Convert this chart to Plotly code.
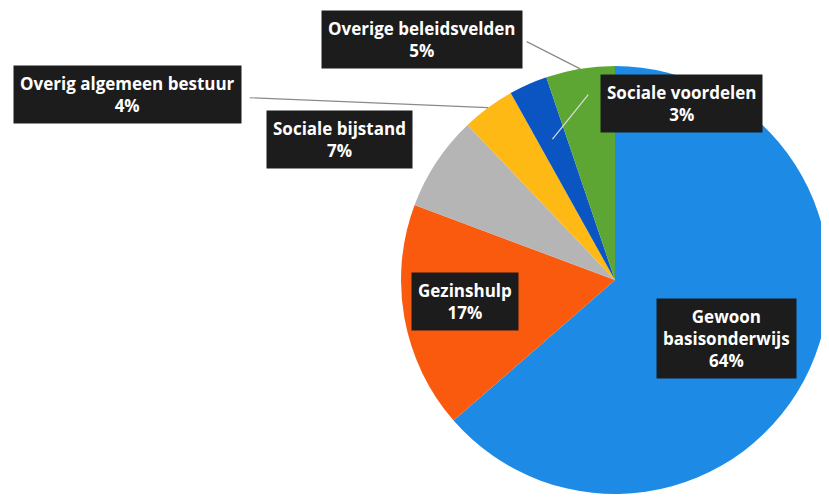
import math
import plotly.graph_objects as go

categories = ["Gewoon basisonderwijs", "Gezinshulp", "Sociale bijstand",
              "Overig algemeen bestuur", "Sociale voordelen", "Overige beleidsvelden"]
label_text = ["Gewoon<br>basisonderwijs<br>64%", "Gezinshulp<br>17%", "Sociale bijstand<br>7%",
              "Overig algemeen bestuur<br>4%", "Sociale voordelen<br>3%", "Overige beleidsvelden<br>5%"]
values = [63.6, 17.1, 7.2, 4.0, 2.9, 5.2]
colors = ["#1D8BE6", "#FA5A0E", "#B5B5B5", "#FFB914", "#0A55C2", "#5EA633"]

# page body has an 8px default margin; figure sized to fill the rest of the window
OFF = 8
W, H = 829 - OFF, 501 - OFF
cx_px, cy_px, r_px = 615 - OFF, 280 - OFF, 214
dom_x = [(cx_px - r_px) / W, min(1.0, (cx_px + r_px) / W)]
dom_y = [1 - (cy_px + r_px) / H, 1 - (cy_px - r_px) / H]

fig = go.Figure(go.Pie(
    labels=categories, values=values, sort=False, direction="clockwise", rotation=0,
    marker=dict(colors=colors, line=dict(width=0)), textinfo="none", hoverinfo="label+percent",
    domain=dict(x=dom_x, y=dom_y), showlegend=False,
))

total = sum(values)
cum = 0
mids = []
for v in values:
    mids.append((cum + v / 2) / total * 2 * math.pi)
    cum += v

def point(i, f):
    th = mids[i]
    px = cx_px + r_px * f * math.sin(th)
    py = cy_px - r_px * f * math.cos(th)
    return px / W, 1 - py / H

# label: (radius fraction, xshift, yshift)
label_place = [
    (0.6, -5, -5),
    (0.7, -3, 5),
    (1.0, -97, 22),
    (1.0, -361, 13),
    (0.72, 129, 36),
    (1.0, -158, 29),
]
# leader lines: (slice index, radius fraction, tail dx, tail dy, colour)
leaders = [
    (3, 1.0, -240, -10, "#8a8a8a"),
    (4, 0.72, 37, -46, "#dddddd"),
    (5, 1.0, -55, -28, "#8a8a8a"),
]

annotations = []
for i, f, dx, dy, ac in leaders:
    x, y = point(i, f)
    annotations.append(dict(x=x, y=y, xref="paper", yref="paper", text="", showarrow=True,
                            arrowhead=0, arrowwidth=1.2, arrowcolor=ac, ax=dx, ay=dy,
                            axref="pixel", ayref="pixel"))
for i, (f, dx, dy) in enumerate(label_place):
    x, y = point(i, f)
    annotations.append(dict(
        x=x, y=y, xref="paper", yref="paper", showarrow=False, xshift=dx, yshift=dy,
        xanchor="center", yanchor="middle",
        text="<b>" + label_text[i].replace("<br>", "</b><br><b>") + "</b>",
        font=dict(family="Open Sans", size=17, color="white"),
        bgcolor="#1c1c1c", borderpad=6, align="center"))

fig.update_layout(width=W, height=H, margin=dict(l=0, r=0, t=0, b=0),
                  paper_bgcolor="white", plot_bgcolor="white", annotations=annotations)
fig.write_html("out.html")
